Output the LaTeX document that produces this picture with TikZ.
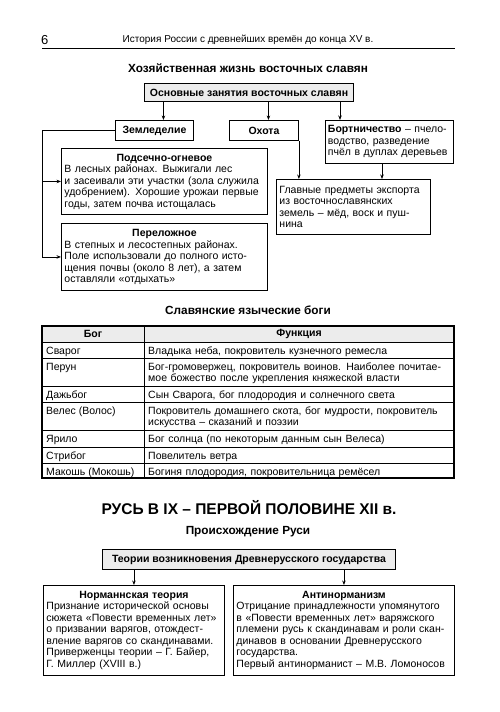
\documentclass[tikz,border=0pt]{standalone}
\usepackage{fontspec}
\setmainfont{Liberation Sans}
\usetikzlibrary{arrows.meta,positioning,calc}

\newcommand{\bodyfont}{\fontsize{10.5}{11.5}\selectfont}
\newcommand{\boxtitle}[1]{\makebox[\linewidth][c]{\bfseries #1}\\}

\tikzset{
    box/.style={draw, line width=0.9pt, anchor=north west, inner xsep=3pt,
        inner ysep=2pt, font=\bodyfont, align=left},
    headbox/.style={draw, line width=1pt, fill=gray!15, anchor=north west,
        font=\fontsize{10.5}{12}\selectfont\bfseries, inner sep=3pt},
    smallbox/.style={draw, line width=0.9pt, anchor=north west,
        font=\bodyfont\bfseries, inner sep=2pt},
    arr/.style={-{Stealth[length=4.5pt,width=3.5pt]}, line width=0.7pt},
    cell/.style={anchor=base west, inner sep=0pt, font=\bodyfont, align=left},
    heading/.style={font=\fontsize{11.8}{14}\selectfont\bfseries},
}

\begin{document}
\begin{tikzpicture}[x=1pt,y=-1pt]
    \useasboundingbox (0,0) rectangle (500,712);

    % running head
    \node [font=\fontsize{13}{15}\selectfont, anchor=west, inner sep=0pt] (pagenum) at (41,40) {6};
    \node [font=\fontsize{10}{12}\selectfont] (runhead) at (248,40)
        {История России с древнейших времён до конца XV в.};
    \draw [line width=0.6pt] (42,48) -- (455,48);

    % economy of the eastern slavs
    \node [heading] (econtitle) at (248,68) {Хозяйственная жизнь восточных славян};
    \node [headbox, minimum width=209pt, minimum height=18pt] (main) at (144,83)
        {Основные занятия восточных славян};
    \node [smallbox, minimum width=78pt, minimum height=20pt] (zemled) at (115,120) {Земледелие};
    \node [smallbox, minimum width=69pt, minimum height=20pt] (ohota) at (229,120) {Охота};
    \node [box, inner xsep=2.5pt, text width=123pt, minimum height=43pt] (bort) at (325,120)
        {\textbf{Бортничество} – пчело-\\водство, разведение\\пчёл в дуплах деревьев};
    \node [box, text width=148pt, minimum height=55pt] (export) at (276,179)
        {Главные предметы экспорта\\из восточнославянских\\земель – мёд, воск и пуш-\\нина};
    \node [box, text width=200pt, minimum height=66pt] (podsek) at (61,148)
        {\boxtitle{Подсечно-огневое}В лесных районах. Выжигали лес\\и засеивали эти участки (зола служила\\удобрением). Хорошие урожаи первые\\годы, затем почва истощалась};
    \node [box, text width=200pt, minimum height=67pt] (perelozh) at (61,223)
        {\boxtitle{Переложное}В степных и лесостепных районах.\\Поле использовали до полного исто-\\щения почвы (около 8 лет), а затем\\оставляли «отдыхать»};

    \draw [arr] ([xshift=9pt]zemled.north |- main.south) -- ([xshift=9pt]zemled.north);
    \draw [arr] ([xshift=4.5pt]ohota.north |- main.south) -- ([xshift=4.5pt]ohota.north);
    \draw [arr] ([xshift=15pt]bort.north west |- main.south) -- ([xshift=15pt]bort.north west);
    \draw [arr] (ohota.south east) -- (ohota.south east |- export.north);
    \draw [arr] ([xshift=57pt]bort.south west) -- ([xshift=57pt]bort.south west |- export.north);
    \coordinate (trunk) at (zemled.west -| 42,0);
    \draw [arr] (zemled.west) -- (trunk) |- (perelozh.west);
    \draw [arr] (trunk |- podsek.west) -- (podsek.west);

    % pagan gods table
    \node [heading] (godstitle) at (248,310) {Славянские языческие боги};
    \fill [gray!15] (42,326) rectangle (454,342);
    \foreach \yy in {342,358,386,402,430,447,463}
        \draw [line width=0.8pt] (42,\yy) -- (454,\yy);
    \draw [line width=0.8pt] (144,326) -- (144,478);
    \draw [line width=1.2pt] (42,326) rectangle (454,478);
    \node [font=\bodyfont\bfseries] (hgod) at (93,334) {Бог};
    \node [font=\bodyfont\bfseries] (hfun) at (299,334) {Функция};
    \foreach \rowtop/\god/\fun [count=\i] in {
        342/Сварог/{Владыка неба, покровитель кузнечного ремесла},
        358/Перун/{Бог-громовержец, покровитель воинов. Наиболее почитае-\\мое божество после укрепления княжеской власти},
        386/Дажьбог/{Сын Сварога, бог плодородия и солнечного света},
        402/Велес (Волос)/{Покровитель домашнего скота, бог мудрости, покровитель\\искусства – сказаний и поэзии},
        430/Ярило/{Бог солнца (по некоторым данным сын Велеса)},
        447/Стрибог/{Повелитель ветра},
        463/Макошь (Мокошь)/{Богиня плодородия, покровительница ремёсел}}
    {
        \node [cell] (god\i) at (46,\rowtop+12) {\god};
        \node [cell, text width=304pt] (fun\i) at (148,\rowtop+12) {\fun};
    }

    % origin of rus
    \node [font=\fontsize{15.5}{18}\selectfont\bfseries] (rustitle) at (249,508)
        {РУСЬ В IX – ПЕРВОЙ ПОЛОВИНЕ XII в.};
    \node [heading] (origtitle) at (248,532) {Происхождение Руси};
    \node [headbox, minimum width=293pt, minimum height=20pt] (theory) at (102,549)
        {Теории возникновения Древнерусского государства};
    \node [box, text width=175pt, minimum height=90pt] (normann) at (43,585)
        {\boxtitle{Норманнская теория}Признание исторической основы\\сюжета «Повести временных лет»\\о призвании варягов, отождест-\\вление варягов со скандинавами.\\Приверженцы теории – Г. Байер,\\Г. Миллер (XVIII в.)};
    \node [box, text width=215pt, minimum height=90pt] (antinorm) at (233,585)
        {\boxtitle{Антинорманизм}Отрицание принадлежности упомянутого\\в «Повести временных лет» варяжского\\племени русь к скандинавам и роли скан-\\динавов в основании Древнерусского\\государства.\\Первый антинорманист – М.В. Ломоносов};
    \draw [arr] (normann.north |- theory.south) -- (normann.north);
    \draw [arr] (antinorm.north |- theory.south) -- (antinorm.north);
\end{tikzpicture}
\end{document}
